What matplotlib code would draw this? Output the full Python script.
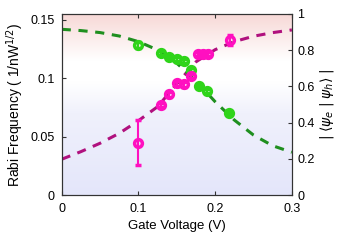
import numpy as np
import matplotlib.pyplot as plt

plt.rcParams['font.family'] = ['Liberation Sans', 'DejaVu Sans']
plt.rcParams['mathtext.fontset'] = 'dejavusans'

# measured Rabi frequency (left axis)
rabi_v = [0.0998, 0.129, 0.140, 0.1498, 0.160, 0.169, 0.178, 0.1845, 0.191, 0.219]
rabi_f = [0.0448, 0.0771, 0.0862, 0.0957, 0.0948, 0.1019, 0.1207, 0.1207, 0.1207, 0.1327]
rabi_err = [0.019, 0.002, 0.002, 0.002, 0.002, 0.002, 0.002, 0.002, 0.002, 0.004]

# overlap |<psi_e|psi_h>| (right axis)
ovl_v = [0.0998, 0.129, 0.140, 0.150, 0.160, 0.169, 0.179, 0.190, 0.218]
ovl = [0.829, 0.783, 0.764, 0.751, 0.740, 0.691, 0.604, 0.576, 0.455]
ovl_err = [0.015, 0.01, 0.01, 0.01, 0.01, 0.01, 0.01, 0.01, 0.01]

# model curves
curve_v = [0, 0.025, 0.05, 0.075, 0.1, 0.125, 0.15, 0.175, 0.2, 0.225, 0.25, 0.275, 0.3]
rabi_fit = [0.0306, 0.0371, 0.0443, 0.0528, 0.0636, 0.0756, 0.0951, 0.1140, 0.1244,
            0.1313, 0.1359, 0.1390, 0.1413]
ovl_fit = [0.915, 0.908, 0.897, 0.878, 0.847, 0.801, 0.728, 0.630, 0.515, 0.414,
           0.331, 0.272, 0.236]

fig = plt.figure(figsize=(3.39, 2.40), dpi=100)
ax = fig.add_axes([0.182, 0.1875, 0.679, 0.7545])
ax2 = ax.twinx()

# background gradient: lavender at the bottom, white band, pink at the top
f = np.linspace(0, 1, 256)
stops = [0, 0.45, 0.62, 0.74, 1.0]
cols = np.array([[228, 230, 250], [240, 241, 252], [255, 255, 255],
                 [255, 255, 255], [247, 216, 214]]) / 255.0
grad = np.stack([np.interp(f, stops, cols[:, i]) for i in range(3)], axis=1)
ax.imshow(grad[::-1, None, :], aspect='auto', extent=[0, 1, 0, 1],
          transform=ax.transAxes, zorder=0)

green_line = '#1f8f1f'
green_pt = '#2fd41a'
mag_line = '#b0117e'
mag_pt = '#ff10c0'

ax.plot(curve_v, rabi_fit, '--', color=mag_line, lw=2.2, dashes=(3, 2.5), zorder=2)
ax2.plot(curve_v, ovl_fit, '--', color=green_line, lw=2.2, dashes=(3, 2.5), zorder=2)

ax2.errorbar(ovl_v, ovl, yerr=ovl_err, fmt='o', color=green_pt, ms=5.6, mew=2.5,
             mfc='none', capsize=2.5, elinewidth=1.5, zorder=3)
ax2.errorbar(rabi_v, np.array(rabi_f) / 0.155, yerr=np.array(rabi_err) / 0.155,
             fmt='o', color=mag_pt, ms=5.6, mew=2.5, mfc='none', capsize=2.5,
             elinewidth=1.5, zorder=4)

ax.set_xlim(0, 0.3)
ax.set_ylim(0, 0.155)
ax2.set_ylim(0, 1)
ax.set_xticks([0, 0.1, 0.2, 0.3])
ax.set_xticklabels(['0', '0.1', '0.2', '0.3'])
ax.set_yticks([0, 0.05, 0.1, 0.15])
ax.set_yticklabels(['0', '0.05', '0.1', '0.15'])
ax2.set_yticks([0, 0.2, 0.4, 0.6, 0.8, 1])
ax2.set_yticklabels(['0', '0.2', '0.4', '0.6', '0.8', '1'])

ax.tick_params(axis='x', direction='in', labelsize=9, length=3, color='#333333',
               top=True, pad=6)
ax.tick_params(axis='y', direction='in', labelsize=9, length=3, color='#333333', pad=5)
ax2.tick_params(direction='in', labelsize=9, length=3, color='#333333', pad=4)
for a in (ax, ax2):
    for s in a.spines.values():
        s.set_color('#333333')

ax.set_xlabel('Gate Voltage (V)', fontsize=9.5, labelpad=3)
ax.set_ylabel('Rabi Frequency ( 1/nW$^{1/2}$)', fontsize=10, labelpad=3)
ax2.set_ylabel(r'$|\;\langle\psi_e\;|\;\psi_h\rangle\;|$', fontsize=10, labelpad=2)

fig.savefig('out.png', dpi=100)
